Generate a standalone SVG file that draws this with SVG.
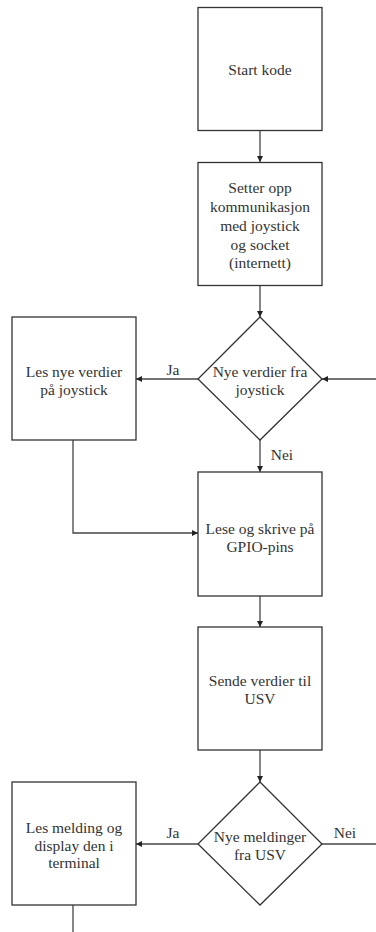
<svg xmlns="http://www.w3.org/2000/svg" width="376" height="932" viewBox="0 0 376 932">
<defs>
<marker id="a" viewBox="0 0 8 8" refX="8" refY="4" markerWidth="6" markerHeight="6" markerUnits="userSpaceOnUse" orient="auto">
<path d="M0,0 L8,4 L0,8 Z" fill="#222"/>
</marker>
</defs>
<rect width="376" height="932" fill="#fff"/>
<g id="connectors">
<g fill="none" stroke="#444" stroke-width="1.3">
<line x1="260" y1="131" x2="260" y2="162" marker-end="url(#a)"/>
<line x1="260" y1="286" x2="260" y2="317" marker-end="url(#a)"/>
<line x1="198" y1="379" x2="136" y2="379" marker-end="url(#a)"/>
<line x1="376" y1="379" x2="322" y2="379" marker-end="url(#a)"/>
<line x1="260" y1="440" x2="260" y2="472" marker-end="url(#a)"/>
<polyline points="73,440 73,533 198,533" marker-end="url(#a)"/>
<line x1="260" y1="596" x2="260" y2="627" marker-end="url(#a)"/>
<line x1="260" y1="750" x2="260" y2="782" marker-end="url(#a)"/>
<line x1="198" y1="844" x2="136" y2="844" marker-end="url(#a)"/>
<line x1="322" y1="844" x2="376" y2="844"/>
<line x1="73" y1="905" x2="73" y2="932"/>
</g>
<text x="173" y="375" font-family="Liberation Serif" font-size="15.5" fill="#333" text-anchor="middle">Ja</text>
<text x="282" y="460" font-family="Liberation Serif" font-size="15.5" fill="#333" text-anchor="middle">Nei</text>
<text x="173" y="838" font-family="Liberation Serif" font-size="15.5" fill="#333" text-anchor="middle">Ja</text>
<text x="345" y="838" font-family="Liberation Serif" font-size="15.5" fill="#333" text-anchor="middle">Nei</text>
</g>
<g id="start">
<rect x="198" y="7.5" width="124" height="123" fill="#fff" stroke="#333" stroke-width="1.3"/>
<text x="260" y="75" font-family="Liberation Serif" font-size="15.5" fill="#333" text-anchor="middle">Start kode</text>
</g>
<g id="setup">
<rect x="198" y="162.5" width="124" height="123" fill="#fff" stroke="#333" stroke-width="1.3"/>
<text x="260" y="193" font-family="Liberation Serif" font-size="15.5" fill="#333" text-anchor="middle">Setter opp</text>
<text x="260" y="212" font-family="Liberation Serif" font-size="15.5" fill="#333" text-anchor="middle">kommunikasjon</text>
<text x="260" y="231" font-family="Liberation Serif" font-size="15.5" fill="#333" text-anchor="middle">med joystick</text>
<text x="260" y="249.5" font-family="Liberation Serif" font-size="15.5" fill="#333" text-anchor="middle">og socket</text>
<text x="260" y="268" font-family="Liberation Serif" font-size="15.5" fill="#333" text-anchor="middle">(internett)</text>
</g>
<g id="decision1">
<polygon points="260,317 322,379 260,440 198,379" fill="#fff" stroke="#333" stroke-width="1.3"/>
<text x="260" y="376.5" font-family="Liberation Serif" font-size="15.5" fill="#333" text-anchor="middle">Nye verdier fra</text>
<text x="260" y="394.5" font-family="Liberation Serif" font-size="15.5" fill="#333" text-anchor="middle">joystick</text>
</g>
<g id="readjoystick">
<rect x="12" y="317" width="124" height="123" fill="#fff" stroke="#333" stroke-width="1.3"/>
<text x="74" y="377" font-family="Liberation Serif" font-size="15.5" fill="#333" text-anchor="middle">Les nye verdier</text>
<text x="74" y="395" font-family="Liberation Serif" font-size="15.5" fill="#333" text-anchor="middle">på joystick</text>
</g>
<g id="gpio">
<rect x="198" y="472" width="124" height="124" fill="#fff" stroke="#333" stroke-width="1.3"/>
<text x="260" y="534" font-family="Liberation Serif" font-size="15.5" fill="#333" text-anchor="middle">Lese og skrive på</text>
<text x="260" y="552" font-family="Liberation Serif" font-size="15.5" fill="#333" text-anchor="middle">GPIO-pins</text>
</g>
<g id="send">
<rect x="198" y="627" width="124" height="123" fill="#fff" stroke="#333" stroke-width="1.3"/>
<text x="260" y="686" font-family="Liberation Serif" font-size="15.5" fill="#333" text-anchor="middle">Sende verdier til</text>
<text x="260" y="704" font-family="Liberation Serif" font-size="15.5" fill="#333" text-anchor="middle">USV</text>
</g>
<g id="decision2">
<polygon points="260,782 322,844 260,905 198,844" fill="#fff" stroke="#333" stroke-width="1.3"/>
<text x="260" y="841.5" font-family="Liberation Serif" font-size="15.5" fill="#333" text-anchor="middle">Nye meldinger</text>
<text x="260" y="859.5" font-family="Liberation Serif" font-size="15.5" fill="#333" text-anchor="middle">fra USV</text>
</g>
<g id="readmsg">
<rect x="12" y="782" width="124" height="123" fill="#fff" stroke="#333" stroke-width="1.3"/>
<text x="74" y="833" font-family="Liberation Serif" font-size="15.5" fill="#333" text-anchor="middle">Les melding og</text>
<text x="74" y="851" font-family="Liberation Serif" font-size="15.5" fill="#333" text-anchor="middle">display den i</text>
<text x="74" y="868" font-family="Liberation Serif" font-size="15.5" fill="#333" text-anchor="middle">terminal</text>
</g>
</svg>
